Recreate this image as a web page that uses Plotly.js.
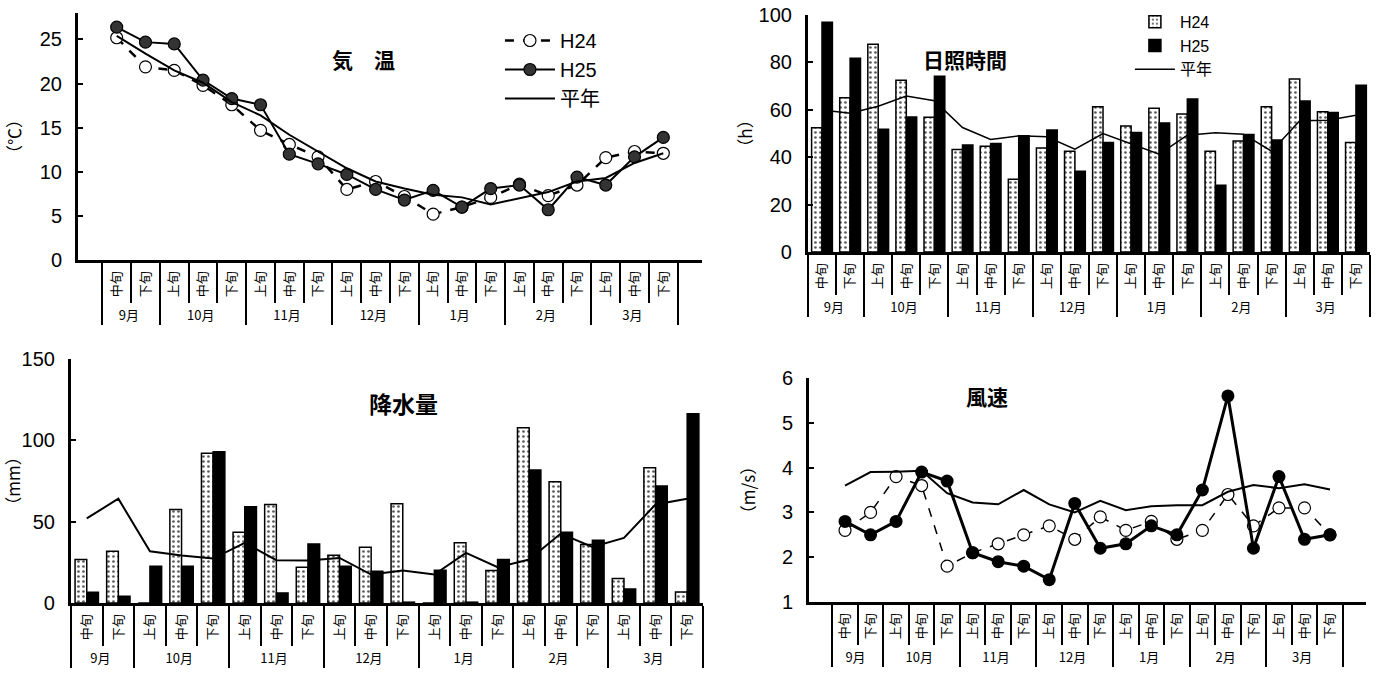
<!DOCTYPE html>
<html><head><meta charset="utf-8">
<script src="https://cdn.plot.ly/plotly-3.0.1.min.js"></script>
<style>html,body{margin:0;padding:0;background:#fff}#chart{width:1383px;height:675px}</style>
</head><body><div id="chart"></div>
<script>
const monthCat = ['9月','9月','10月','10月','10月','11月','11月','11月','12月','12月','12月','1月','1月','1月','2月','2月','2月','3月','3月','3月'];
const dekadCat = ['中旬','下旬','上旬','中旬','下旬','上旬','中旬','下旬','上旬','中旬','下旬','上旬','中旬','下旬','上旬','中旬','下旬','上旬','中旬','下旬'];

const tempH24 = [25.2,21.9,21.5,19.8,17.6,14.7,13.1,11.7,8.0,8.9,7.2,5.2,6.0,7.1,8.6,7.3,8.5,11.6,12.3,12.1];
const tempH25 = [26.4,24.7,24.5,20.4,18.3,17.6,12.0,10.9,9.7,8.0,6.8,7.9,6.0,8.1,8.5,5.7,9.4,8.5,11.7,13.9];
const tempNorm = [25.4,23.4,21.5,20.1,17.9,16.4,14.2,12.3,10.4,8.9,8.1,7.4,7.1,6.3,7.0,7.7,8.9,9.3,11.0,12.1];

const sunH24 = [52.4,65.1,87.7,72.5,56.8,43.2,44.6,30.7,43.9,42.5,61.3,53.2,60.6,58.2,42.5,46.8,61.3,73.0,59.2,46.2];
const sunH25 = [96.9,81.7,51.8,57.0,74.1,45.1,45.8,49.0,51.5,34.1,46.2,50.4,54.4,64.5,28.2,49.6,47.2,63.7,58.9,70.4];
const sunNorm = [59.9,58.5,61.5,65.8,63.8,52.5,47.5,49.0,48.6,43.4,50.0,45.8,41.3,49.3,50.3,49.7,42.5,55.4,55.6,57.7];

const rainH24 = [26.7,31.8,0,57.5,92.0,43.5,60.6,22.0,29.4,34.3,61.0,0,37.0,19.9,107.8,74.5,35.9,15.0,83.2,6.8];
const rainH25 = [6.6,4.1,22.6,22.6,93.0,59.1,6.2,36.3,22.6,19.5,0.5,20.1,0.5,26.7,81.7,43.5,38.6,8.6,71.9,116.4];
const rainNorm = [52.0,64.1,31.8,29.2,27.3,37.0,26.3,26.1,27.7,17.5,19.9,17.5,30.8,22.0,26.7,42.7,34.5,40.0,60.6,64.1];

const windH24 = [2.6,3.0,3.8,3.6,1.8,2.1,2.3,2.5,2.7,2.4,2.9,2.6,2.8,2.4,2.6,3.4,2.7,3.1,3.1,2.5];
const windH25 = [2.8,2.5,2.8,3.9,3.7,2.1,1.9,1.8,1.5,3.2,2.2,2.3,2.7,2.5,3.5,5.6,2.2,3.8,2.4,2.5];
const windNorm = [3.6,3.9,3.91,3.93,3.43,3.22,3.18,3.5,3.18,3.0,3.26,3.05,3.14,3.16,3.16,3.46,3.61,3.54,3.63,3.51];

// Plotly orders inner multicategory labels by first appearance; the September
// labels get an invisible zero-width marker so 上旬/中旬/下旬 keep their order.
const dekadKey = dekadCat.map((d, i) => monthCat[i] === '9月' ? d + '\u200B' : d);
const X = [monthCat, dekadKey];
const NARROW = '"Liberation Sans Narrow", "Arial Narrow", Arial, sans-serif';
const TICKFONT = {family:NARROW, size:20, color:'#000'};
const CJK = '"Noto Sans CJK JP", "Noto Sans", sans-serif';
const LEGFONT = '"Liberation Sans Narrow", "Arial Narrow", Arial, "Noto Sans CJK JP", sans-serif';

const traces = [
  {type:'scatter', mode:'lines+markers', name:'H24', x:X, y:tempH24, xaxis:'x', yaxis:'y', legend:'legend',
   line:{color:'#000', width:2.5, dash:'dash'}, marker:{symbol:'circle', size:12, color:'#fff', line:{color:'#000', width:1.2}}},
  {type:'scatter', mode:'lines+markers', name:'H25', x:X, y:tempH25, xaxis:'x', yaxis:'y', legend:'legend',
   line:{color:'#000', width:2}, marker:{symbol:'circle', size:12, color:'#333', line:{color:'#000', width:1.2}}},
  {type:'scatter', mode:'lines', name:'平年', x:X, y:tempNorm, xaxis:'x', yaxis:'y', legend:'legend',
   line:{color:'#000', width:2}},

  {type:'bar', name:'H24', x:X, y:sunH24, xaxis:'x2', yaxis:'y2', legend:'legend2',
   marker:{color:'#fff', line:{color:'#000', width:1.5}, pattern:{shape:'.', fgcolor:'#555', bgcolor:'#fff', size:5, solidity:0.22}}},
  {type:'bar', name:'H25', x:X, y:sunH25, xaxis:'x2', yaxis:'y2', legend:'legend2',
   marker:{color:'#000', line:{color:'#000', width:1.5}}},
  {type:'scatter', mode:'lines', name:'平年', x:X, y:sunNorm, xaxis:'x2', yaxis:'y2', legend:'legend2',
   line:{color:'#000', width:1.5}},

  {type:'bar', name:'H24', x:X, y:rainH24, xaxis:'x3', yaxis:'y3', showlegend:false,
   marker:{color:'#fff', line:{color:'#000', width:1.5}, pattern:{shape:'.', fgcolor:'#555', bgcolor:'#fff', size:5, solidity:0.22}}},
  {type:'bar', name:'H25', x:X, y:rainH25, xaxis:'x3', yaxis:'y3', showlegend:false,
   marker:{color:'#000', line:{color:'#000', width:1.5}}},
  {type:'scatter', mode:'lines', name:'平年', x:X, y:rainNorm, xaxis:'x3', yaxis:'y3', showlegend:false,
   line:{color:'#000', width:2}},

  {type:'scatter', mode:'lines+markers', name:'H24', x:X, y:windH24, xaxis:'x4', yaxis:'y4', showlegend:false,
   line:{color:'#000', width:1.5, dash:'dash'}, marker:{symbol:'circle', size:12, color:'#fff', line:{color:'#000', width:1.2}}},
  {type:'scatter', mode:'lines+markers', name:'H25', x:X, y:windH25, xaxis:'x4', yaxis:'y4', showlegend:false,
   line:{color:'#000', width:3}, marker:{symbol:'circle', size:13, color:'#000'}},
  {type:'scatter', mode:'lines', name:'平年', x:X, y:windNorm, xaxis:'x4', yaxis:'y4', showlegend:false,
   line:{color:'#000', width:2}}
];

function xax(domain, anchor){
  return {type:'multicategory',
    domain:domain, anchor:anchor, showline:true, linecolor:'#000', linewidth:3,
    ticks:'outside', ticklen:40, tickwidth:2, tickcolor:'#000', tickangle:-90, ticklabelstandoff:3,
    showgrid:false, zeroline:false,
    showdividers:true, dividercolor:'#000', dividerwidth:2,
    tickfont:{family:CJK, size:13, color:'#000'}, fixedrange:true};
}
function yax(domain, anchor, range, dtick, title, standoff){
  return {domain:domain, anchor:anchor, range:range, dtick:dtick, showline:true, linecolor:'#000', linewidth:3,
    ticks:'inside', ticklen:5, tickwidth:2, tickcolor:'#000', ticklabelstandoff:9, showgrid:false, zeroline:false,
    tickfont:TICKFONT, title:{text:title, font:{family:CJK, size:17, color:'#000'}, standoff:standoff}, fixedrange:true};
}

const layout = {
  width:1383, height:675, margin:{l:0,r:0,t:0,b:0}, paper_bgcolor:'#fff', plot_bgcolor:'rgba(0,0,0,0)',
  barmode:'group', bargap:0.26, bargroupgap:0,
  font:{family:CJK, color:'#000'},
  xaxis: xax([0.0564,0.5076],'y'),
  yaxis: yax([0.6148,0.9807],'x',[0,28],5,'（℃）',14),
  xaxis2: xax([0.5842,0.9906],'y2'),
  yaxis2: yax([0.6267,0.9778],'x2',[0,100],20,'（h）',2),
  xaxis3: xax([0.0513,0.5083],'y3'),
  yaxis3: yax([0.1067,0.4681],'x3',[0,150],50,'（mm）',12),
  xaxis4: xax([0.585,0.9877],'y4'),
  yaxis4: yax([0.1081,0.44],'x4',[1,6],1,'（m/s）',22),
  legend:{x:0.3615, y:1-21/675, xanchor:'left', yanchor:'top', bgcolor:'rgba(0,0,0,0)', font:{family:LEGFONT, size:20, color:'#000'}, tracegroupgap:0, itemwidth:50},
  legend2:{x:0.817, y:0.993, xanchor:'left', yanchor:'top', bgcolor:'rgba(0,0,0,0)', font:{family:LEGFONT, size:16, color:'#000'}, tracegroupgap:0, itemwidth:40},
  annotations:[
    {text:'<b>気　温</b>', xref:'paper', yref:'paper', x:330/1383, y:1-42/675, showarrow:false, font:{family:CJK, size:21, color:'#000'}},
    {text:'<b>日照時間</b>', xref:'paper', yref:'paper', x:1009/1383, y:1-42/675, showarrow:false, font:{family:CJK, size:21, color:'#000'}},
    {text:'<b>降水量</b>', xref:'paper', yref:'paper', x:367/1383, y:1-403/675, showarrow:false, font:{family:CJK, size:23, color:'#000'}},
    {text:'<b>風速</b>', xref:'paper', yref:'paper', x:1010/1383, y:1-396/675, showarrow:false, font:{family:CJK, size:21, color:'#000'}}
  ]
};
Plotly.newPlot('chart', traces, layout, {displayModeBar:false, staticPlot:true});
</script></body></html>
